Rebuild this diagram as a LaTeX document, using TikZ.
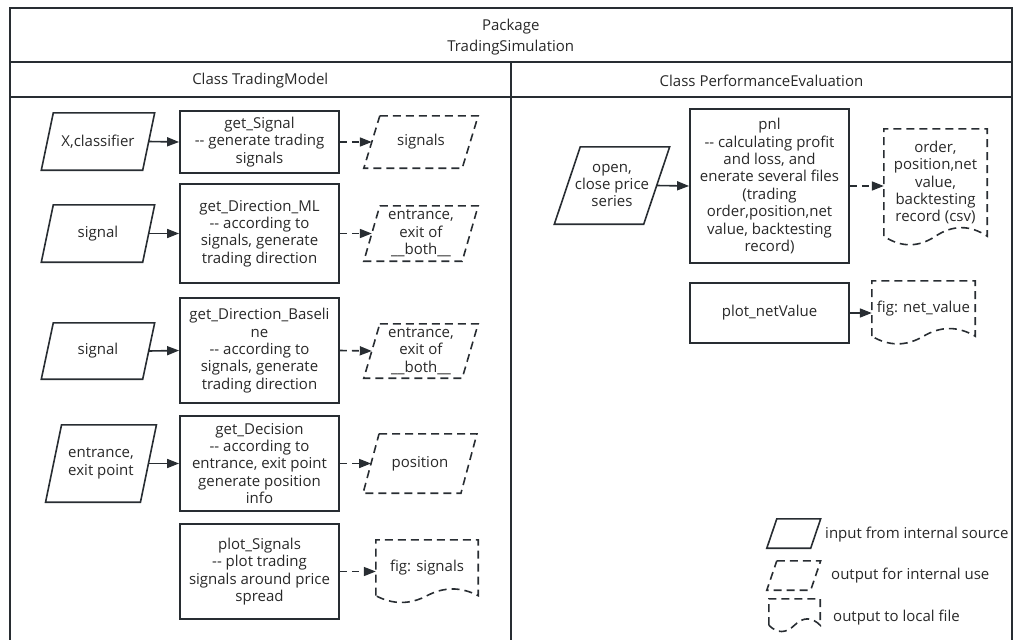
\documentclass[tikz,border=0pt]{standalone}
\usepackage{fontspec}
\setmainfont{Open Sans}
\usetikzlibrary{arrows.meta,calc}

\definecolor{ink}{RGB}{40,45,50}
\definecolor{txt}{RGB}{40,40,40}

\tikzset{
  lbl/.style={font=\fontsize{15}{17.4}\selectfont, text=txt, align=center, inner sep=0pt},
  headtxt/.style={font=\fontsize{15}{21}\selectfont, text=txt, align=center, inner sep=0pt},
  frameline/.style={draw=ink, line width=2pt},
  procbox/.style={lbl, draw=ink, line width=1.8pt, minimum width=159pt},
  holder/.style={lbl, draw=none},
  solidline/.style={draw=ink, line width=1.6pt, line join=miter},
  dashline/.style={draw=ink, line width=1.6pt, dash pattern=on 8pt off 5pt},
  flow/.style={draw=ink, line width=1.6pt, -{Triangle[length=12pt,width=9pt]}},
  dflow/.style={flow, dash pattern=on 7pt off 5pt},
}

% parallelogram drawn round a holder node whose west/east anchors sit on the slanted edges
\newcommand\slantoutline[3]{%
  \draw[#3] ([xshift={#2*0.5pt}]#1.north west) -- ([xshift={#2*0.5pt}]#1.north east)
    -- ([xshift={-#2*0.5pt}]#1.south east) -- ([xshift={-#2*0.5pt}]#1.south west) -- cycle;}

% document shape: holder node spans from the top edge to the ends of the wavy bottom
\newcommand\docoutline[3]{%
  \draw[dashline] (#1.south west) -- (#1.north west) -- (#1.north east) -- (#1.south east)
    .. controls ($(#1.south east)+({-#2/6},{-0.6*#3})$) and ($(#1.south)+({#2/6},{-0.6*#3})$) .. (#1.south)
    .. controls ($(#1.south)+({-#2/6},{0.6*#3})$) and ($(#1.south west)+({#2/6},{0.6*#3})$) .. (#1.south west);}

\begin{document}
\begin{tikzpicture}[x=1pt,y=-1pt]
\useasboundingbox (0,0) rectangle (1017,640);

% ---------- frame: package and the two classes ----------
\draw[frameline] (9.5,7.5) rectangle (1012,62);
\draw[frameline] (9.5,62) rectangle (511,96.5);
\draw[frameline] (511,62) rectangle (1012,96.5);
\draw[frameline] (9.5,96.5) -- (9.5,640);
\draw[frameline] (511,96.5) -- (511,640);
\draw[frameline] (1012,96.5) -- (1012,640);
\node[headtxt] (pkg) at (510.75,37) {Package\\TradingSimulation};
\node[headtxt] (tmhead) at (260.25,81) {Class TradingModel};
\node[headtxt] (pehead) at (761.5,81) {Class PerformanceEvaluation};

% ---------- Class TradingModel ----------
\node[holder, minimum width=101pt, minimum height=57pt] (in1) at (98,141.5) {X,classifier};
\slantoutline{in1}{12}{solidline}
\node[procbox, minimum height=62pt] (sig) at (259.5,142) {get\_Signal\\-{}- generate trading\\signals};
\node[holder, minimum width=98pt, minimum height=52pt] (out1) at (421,142) {signals};
\slantoutline{out1}{16}{dashline}
\draw[flow] (in1.east) -- (sig.west);
\draw[dflow] (sig.east) -- (out1.west);

\node[holder, minimum width=101pt, minimum height=57pt] (in2) at (98,233.5) {signal};
\slantoutline{in2}{12}{solidline}
\node[procbox, minimum height=99pt] (dirml) at (259.5,233.5) {get\_Direction\_ML\\-{}- according to\\signals, generate\\trading direction};
\node[holder, minimum width=98pt, minimum height=55pt] (out2) at (421,233.5) {entrance,\\exit of\\\_\_both\_\_};
\slantoutline{out2}{16}{dashline}
\draw[flow] (in2.east) -- (dirml.west);
\draw[dflow] (dirml.east) -- (out2.west);

\node[holder, minimum width=101pt, minimum height=56pt] (in3) at (98,351) {signal};
\slantoutline{in3}{12}{solidline}
\node[procbox, minimum height=105pt] (dirbl) at (259.5,350.5) {get\_Direction\_Baseli\\ne\\-{}- according to\\signals, generate\\trading direction};
\node[holder, minimum width=98pt, minimum height=54pt] (out3) at (421,351) {entrance,\\exit of\\\_\_both\_\_};
\slantoutline{out3}{16}{dashline}
\draw[flow] (in3.east) -- (dirbl.west);
\draw[dflow] (dirbl.east) -- (out3.west);

\node[holder, minimum width=94.5pt, minimum height=77pt] (in4) at (101,463.5) {entrance,\\exit point};
\slantoutline{in4}{16}{solidline}
\node[procbox, minimum height=95pt] (dec) at (259.5,463.5) {get\_Decision\\-{}- according to\\entrance, exit point\\generate position\\info};
\node[holder, minimum width=97.5pt, minimum height=59pt] (out4) at (420,463.5) {position};
\slantoutline{out4}{16}{dashline}
\draw[flow] (in4.east) -- (dec.west);
\draw[dflow] (dec.east) -- (out4.west);

\node[procbox, minimum height=95pt] (plotsig) at (259.5,571.5) {plot\_Signals\\-{}- plot trading\\signals around price\\spread};
\node[holder, minimum width=102pt, minimum height=55.5pt] (figsig) at (427,567.75) {fig: signals};
\docoutline{figsig}{102}{15}
\draw[dflow] (plotsig.east) -- (plotsig.east -| figsig.west);

% ---------- Class PerformanceEvaluation ----------
\node[holder, minimum width=89pt, minimum height=77pt] (prices) at (612,185.5) {open,\\close price\\series};
\slantoutline{prices}{26}{solidline}
\node[procbox, minimum height=154pt] (pnl) at (769.5,186) {pnl\\-{}- calculating profit\\and loss, and\\enerate several files\\(trading\\order,position,net\\value, backtesting\\record)};
\node[holder, minimum width=103pt, minimum height=107pt] (csv) at (935.5,182.5) {order,\\position,net\\value,\\backtesting\\record (csv)};
\docoutline{csv}{103}{19}
\draw[flow] (prices.east) -- (pnl.west);
\draw[dflow] (pnl.east) -- (pnl.east -| csv.west);

\node[procbox, minimum height=60pt] (plotnv) at (769.5,313) {plot\_netValue};
\node[holder, minimum width=103pt, minimum height=55pt] (fignv) at (923.5,308.5) {fig: net\_value};
\docoutline{fignv}{103}{17}
\draw[flow] (plotnv.east) -- (plotnv.east -| fignv.west);

% ---------- key ----------
\node[holder, minimum width=43.5pt, minimum height=29pt] (keyin) at (793.75,533.5) {};
\slantoutline{keyin}{10}{solidline}
\node[lbl, anchor=west] (keyintxt) at (825,535) {input from internal source};
\node[holder, minimum width=43.5pt, minimum height=29pt] (keyout) at (793.75,575.5) {};
\slantoutline{keyout}{10}{dashline}
\node[lbl, anchor=west] (keyouttxt) at (831,576) {output for internal use};
\node[holder, minimum width=51pt, minimum height=26pt] (keyfile) at (794.5,612) {};
\docoutline{keyfile}{51}{14}
\node[lbl, anchor=west] (keyfiletxt) at (833,618) {output to local file};
\end{tikzpicture}
\end{document}
